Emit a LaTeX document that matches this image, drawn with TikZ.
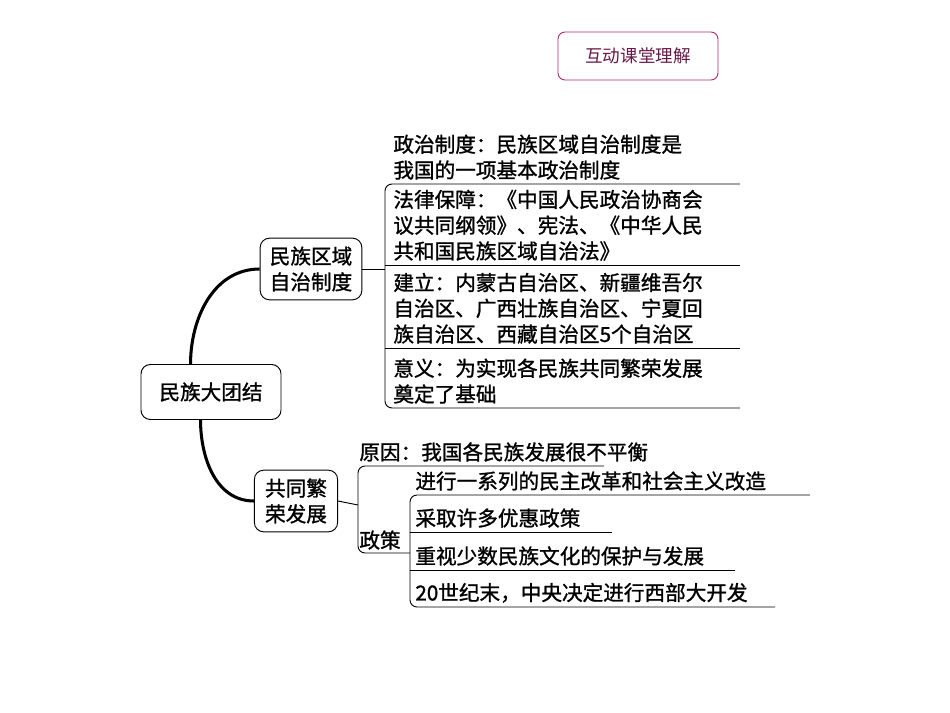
\documentclass[tikz,border=0pt]{standalone}
\usepackage{fontspec}
\setmainfont{Noto Sans CJK SC}[BoldFont={Noto Sans CJK SC},BoldFeatures={FakeBold=1.2}]
\usepackage{tikz}
\usetikzlibrary{positioning}
\definecolor{tagpink}{RGB}{170,40,120}

\begin{document}
\begin{tikzpicture}[x=0.03cm, y=-0.03cm, font=\fontsize{17.6}{22}\selectfont\bfseries,
		box_style/.style={draw=black,thick,rounded corners=8pt,align=center,inner sep=4pt},
		item_style/.style={anchor=south west,align=left,inner sep=1pt},
		edge_style/.style={draw=black,thick,rounded corners=6pt},
		stem_style/.style={draw=black,line width=2.6pt}]
		
		\useasboundingbox (0,0) rectangle (950,713);
		
		\node[draw=tagpink,thick,rounded corners=6pt,minimum width=4.8cm,minimum height=1.44cm,
		      text=tagpink!60!black,font=\fontsize{15}{18}\selectfont] (tag) at (638,56) {互动课堂理解};
		
		\node[box_style,minimum width=4.2cm,minimum height=1.65cm] (root) at (211,392) {民族大团结};
		\node[box_style,minimum width=3.05cm,minimum height=1.85cm] (b1) at (311,269) {民族区域\\自治制度};
		\node[box_style,minimum width=2.5cm,minimum height=1.85cm] (b2) at (296,501) {共同繁\\荣发展};
		
		\draw[stem_style] (root.north west) ++(50,0) coordinate (r1) to[out=90,in=180] (b1.west);
		\draw[stem_style] (root.south west) ++(60,0) coordinate (r2) to[out=-90,in=180] (b2.west);
		
		% first branch
		\node[item_style] (t1) at (392,181) {政治制度：民族区域自治制度是\\我国的一项基本政治制度};
		\node[item_style] (t2) at (392,262) {法律保障：《中国人民政治协商会\\议共同纲领》、宪法、《中华人民\\共和国民族区域自治法》};
		\node[item_style] (t3) at (392,345) {建立：内蒙古自治区、新疆维吾尔\\自治区、广西壮族自治区、宁夏回\\族自治区、西藏自治区5个自治区};
		\node[item_style] (t4) at (392,405) {意义：为实现各民族共同繁荣发展\\奠定了基础};
		
		\coordinate (k1) at (385,269);
		\draw[edge_style] (b1.east) -- (k1);
		\draw[edge_style] (740,184) -- (385,184) -- (385,408) -- (740,408);
		\draw[edge_style] (385,265) -- (740,265);
		\draw[edge_style] (385,348) -- (740,348);
		
		% second branch
		\node[item_style] (u1) at (358,463) {原因：我国各民族发展很不平衡};
		\node[item_style] (u0) at (358,551) {政策};
		\node[item_style] (v1) at (414,492) {进行一系列的民主改革和社会主义改造};
		\node[item_style] (v2) at (414,529) {采取许多优惠政策};
		\node[item_style] (v3) at (414,567) {重视少数民族文化的保护与发展};
		\node[item_style] (v4) at (414,604) {20世纪末，中央决定进行西部大开发};
		
		\coordinate (k2) at (358,505);
		\draw[edge_style] (b2.east) -- (k2);
		\draw[edge_style] (604,466) -- (358,466) -- (358,553) -- (410,553);
		\draw[edge_style] (810,495) -- (410,495) -- (410,607) -- (775,607);
		\draw[edge_style] (410,532) -- (612,532);
		\draw[edge_style] (410,570) -- (735,570);
		
\end{tikzpicture}
\end{document}
